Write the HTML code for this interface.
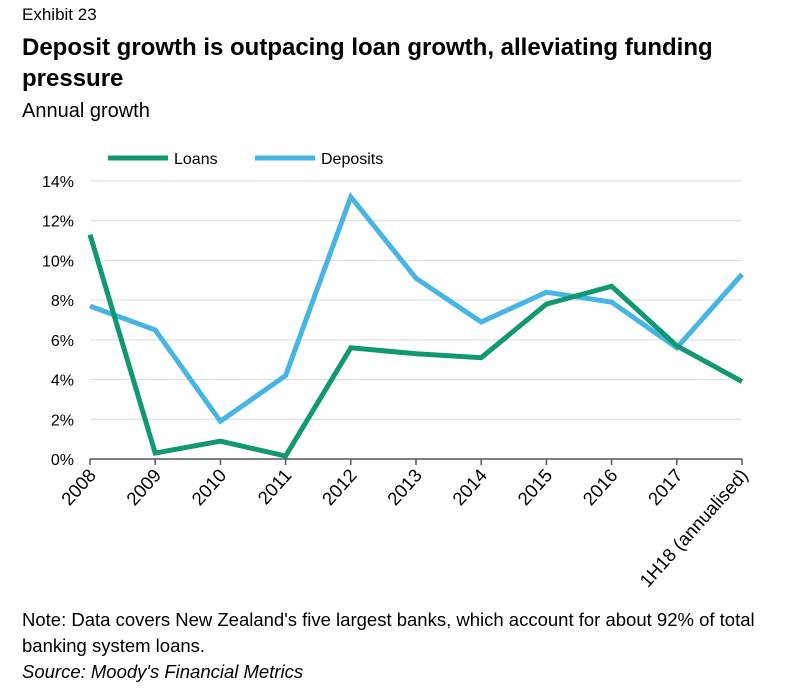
<!DOCTYPE html>
<html><head><meta charset="utf-8"><style>
body{margin:0;width:798px;height:696px;background:#fff;font-family:"Liberation Sans",sans-serif;overflow:hidden}
.t{position:absolute;left:22px;color:#000}
</style></head><body>
<div class="t" style="top:5px;font-size:17px">Exhibit 23</div>
<div class="t" style="top:32px;font-size:24px;line-height:31px;font-weight:bold;width:720px">Deposit growth is outpacing loan growth, alleviating funding pressure</div>
<div class="t" style="top:100px;font-size:20px">Annual growth</div>
<svg id="c" width="798" height="696" style="position:absolute;left:0;top:0"></svg>
<div class="t" style="top:607px;font-size:18.5px;line-height:26px;width:775px">Note: Data covers New Zealand's five largest banks, which account for about 92% of total banking system loans.<br><i>Source: Moody's Financial Metrics</i></div>
<script>
const categories=["2008","2009","2010","2011","2012","2013","2014","2015","2016","2017","1H18 (annualised)"];
const loans=[11.3,0.3,0.9,0.15,5.6,5.3,5.1,7.8,8.7,5.7,3.9];
const deposits=[7.7,6.5,1.9,4.2,13.2,9.1,6.9,8.4,7.9,5.6,9.3];
const yTicks=[0,2,4,6,8,10,12,14];
const svg=document.getElementById('c');const NS="http://www.w3.org/2000/svg";
function mk(t,a,p){const e=document.createElementNS(NS,t);for(const k in a)e.setAttribute(k,a[k]);(p||svg).appendChild(e);return e;}
const x=i=>90+i*(742-90)/(categories.length-1);
const y=v=>459-v*(459-181)/14;
yTicks.forEach(v=>{
 if(v>0){const g=mk('line',{x1:90,x2:742,y1:y(v),y2:y(v),stroke:'#d9d9d9','stroke-width':1});
 }
 const t=mk('text',{x:74,y:y(v)+6,'text-anchor':'end','font-size':16,fill:'#000'});t.textContent=v+'%';
 
});
const ax=mk('line',{x1:90,x2:742,y1:459,y2:459,stroke:'#555','stroke-width':1.5});

categories.forEach((c,i)=>{
 const tk=mk('line',{x1:x(i),x2:x(i),y1:459,y2:465,stroke:'#555','stroke-width':1.5});
 
 const ox=x(i)+7,oy=476;
 const t=mk('text',{x:ox,y:oy,'text-anchor':'end','font-size':18.5,fill:'#000',transform:`rotate(-48 ${ox} ${oy})`});t.textContent=c;
 
});
function line(d,col,name){const p=mk('polyline',{points:d.map((v,i)=>x(i)+','+y(v)).join(' '),fill:'none',stroke:col,'stroke-width':5,'stroke-linejoin':'miter'});
 }
line(deposits,'#46b5e6','deposits-line');
line(loans,'#0f9872','loans-line');
[[108,'#0f9872','Loans','legend-loans'],[255,'#46b5e6','Deposits','legend-deposits']].forEach(([lx,col,lab,n])=>{
 const g=mk('g',{});
 mk('line',{x1:lx,x2:lx+60,y1:158,y2:158,stroke:col,'stroke-width':5},g);
 const t=mk('text',{x:lx+66,y:164,'font-size':16,fill:'#000'},g);t.textContent=lab;
});
</script>
</body></html>
